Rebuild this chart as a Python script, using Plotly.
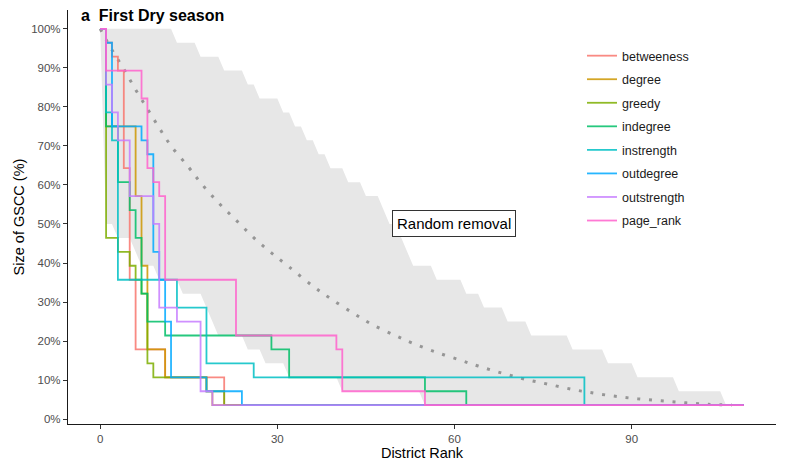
import plotly.graph_objects as go

# ---------------- data ----------------
series_names = ["betweeness", "degree", "greedy", "indegree",
                "instrength", "outdegree", "outstrength", "page_rank"]
series_colors = ["#F8766D", "#CD9600", "#7CAE00", "#00BE67",
                 "#00BFC4", "#00A9FF", "#C77CFF", "#FF61CC"]

# rank at which the GSCC size changes, and the size (%) from that rank on
betweeness_x = [0, 1, 2, 3, 4, 5, 6, 11, 21, 109]
betweeness_y = [100, 96.43, 92.86, 89.29, 64.29, 35.71, 17.86, 10.71, 3.57, 3.57]
degree_x = [0, 1, 6, 7, 8, 11, 18, 19, 109]
degree_y = [100, 75, 57.14, 39.29, 17.86, 10.71, 7.14, 3.57, 3.57]
greedy_x = [0, 1, 3, 5, 6, 7, 8, 9, 18, 21, 109]
greedy_y = [100, 46.43, 42.86, 39.29, 35.71, 32.14, 14.29, 10.71, 7.14, 3.57, 3.57]
indegree_x = [0, 1, 3, 5, 6, 7, 8, 11, 29, 32, 55, 62, 109]
indegree_y = [100, 75, 60.71, 53.57, 46.43, 32.14, 25, 21.43, 17.86, 10.71, 7.14, 3.57, 3.57]
instrength_x = [0, 1, 2, 3, 13, 18, 26, 82, 109]
instrength_y = [100, 78.57, 71.43, 35.71, 28.57, 14.29, 10.71, 3.57, 3.57]
outdegree_x = [0, 1, 2, 7, 8, 9, 10, 11, 12, 18, 24, 109]
outdegree_y = [100, 96.43, 75, 71.43, 67.86, 42.86, 35.71, 25, 10.71, 7.14, 3.57, 3.57]
outstrength_x = [0, 1, 2, 3, 5, 9, 10, 13, 17, 19, 109]
outstrength_y = [100, 85.71, 78.57, 71.43, 57.14, 50, 28.57, 25, 7.14, 3.57, 3.57]
page_rank_x = [0, 1, 7, 8, 9, 10, 11, 23, 40, 41, 55, 109]
page_rank_y = [100, 89.29, 82.14, 64.29, 60.71, 57.14, 35.71, 21.43, 17.86, 7.14, 3.57, 3.57]

# random removal: band (upper / lower) and mean
rand_upper_x = [0, 12, 13, 16, 17, 20, 21, 24, 25, 26, 27, 30, 31, 32, 33, 34, 35, 36,
                37, 38, 39, 41, 42, 44, 45, 47, 48, 49, 50, 51, 52, 53, 56, 57, 61, 62,
                64, 65, 68, 69, 72, 73, 79, 80, 85, 86, 90, 91, 97, 98, 105, 106, 107]
rand_upper_y = [100, 100, 96.43, 96.43, 92.86, 92.86, 89.29, 89.29, 85.71, 85.71, 82.14,
                82.14, 78.57, 78.57, 75, 75, 71.43, 71.43, 67.86, 67.86, 64.29, 64.29,
                60.71, 60.71, 57.14, 57.14, 53.57, 50, 50, 46.43, 42.86, 39.29, 39.29,
                35.71, 35.71, 32.14, 32.14, 28.57, 28.57, 25, 25, 21.43, 21.43, 17.86,
                17.86, 14.29, 14.29, 10.71, 10.71, 7.14, 7.14, 3.57, 3.57]
rand_lower_x = [0, 1, 2, 3, 5, 6, 7, 9, 10, 13, 14, 17, 18, 19, 20, 24, 25, 27, 28, 31,
                32, 40, 41, 54, 55, 107]
rand_lower_y = [100, 50, 50, 46.43, 46.43, 42.86, 39.29, 39.29, 35.71, 35.71, 32.14,
                32.14, 28.57, 25, 21.43, 21.43, 17.86, 17.86, 14.29, 14.29, 10.71, 10.71,
                7.14, 7.14, 3.57, 3.57]
rand_mean_x = [0, 2, 4, 6, 8, 10, 12, 15, 17, 20, 23, 26, 29, 32, 36, 39, 43, 46, 50,
               53, 57, 61, 64, 68, 72, 76, 80, 83, 87, 91, 95, 99, 103, 107]
rand_mean_y = [100, 94.6, 89.7, 84.4, 79.5, 74.6, 70.0, 64.5, 60.6, 55.5, 51.0, 46.5,
               42.6, 39.0, 34.1, 30.9, 27.0, 24.3, 21.4, 19.4, 17.1, 15.1, 13.6, 11.8,
               10.2, 8.9, 7.6, 6.8, 5.9, 5.2, 4.7, 4.2, 3.8, 3.6]

x_ticks = [0, 30, 60, 90]
y_ticks = [0, 10, 20, 30, 40, 50, 60, 70, 80, 90, 100]
y_tick_labels = [f"{v}%" for v in y_ticks]

series_x = [betweeness_x, degree_x, greedy_x, indegree_x,
            instrength_x, outdegree_x, outstrength_x, page_rank_x]
series_y = [betweeness_y, degree_y, greedy_y, indegree_y,
            instrength_y, outdegree_y, outstrength_y, page_rank_y]

FONT = "Liberation Sans, Arial, Helvetica, sans-serif"


def rgba(hex_color, a):
    h = hex_color.lstrip("#")
    r, g, b = int(h[0:2], 16), int(h[2:4], 16), int(h[4:6], 16)
    return f"rgba({r},{g},{b},{a})"


fig = go.Figure()

# band
fig.add_trace(go.Scatter(
    x=rand_upper_x + rand_lower_x[::-1],
    y=rand_upper_y + rand_lower_y[::-1],
    fill="toself", fillcolor="rgb(231,231,231)",
    line=dict(width=0), mode="lines", hoverinfo="skip", showlegend=False))

# mean random removal
fig.add_trace(go.Scatter(
    x=rand_mean_x, y=rand_mean_y, mode="lines",
    line=dict(color="rgb(150,150,150)", width=3, dash="3px,8.8px", shape="spline"),
    hoverinfo="skip", showlegend=False))

for name, col, xs, ys in zip(series_names, series_colors, series_x, series_y):
    fig.add_trace(go.Scatter(
        x=xs, y=ys, mode="lines", name=name, legendgroup=name,
        line=dict(color=rgba(col, 0.85), width=1.8, shape="hv")))

fig.add_annotation(x=60, y=50, xref="x", yref="y", text="Random removal",
                   showarrow=False, font=dict(family=FONT, size=15, color="black"),
                   bgcolor="white", bordercolor="#333333", borderwidth=1, borderpad=4)

fig.add_annotation(x=(79 - 68) / 708, y=(424 - 15.5) / 414, xref="paper", yref="paper",
                   text="<b>a  First Dry season</b>", showarrow=False,
                   font=dict(family=FONT, size=16, color="black"),
                   xanchor="left", yanchor="middle")

fig.update_layout(
    width=787, height=472,
    margin=dict(l=68, r=11, t=10, b=48),
    paper_bgcolor="white", plot_bgcolor="white",
    font=dict(family=FONT, color="#4D4D4D"),
    legend=dict(x=0.726, y=0.925, xanchor="left", yanchor="top",
                font=dict(family=FONT, size=12.5, color="#1a1a1a"),
                tracegroupgap=4.3, bgcolor="rgba(0,0,0,0)"),
)

fig.update_xaxes(range=[-5.45, 114.45], tickvals=x_ticks, ticks="outside", ticklen=4,
                 tickcolor="#333333", tickwidth=1, showline=True, linecolor="#1a1a1a",
                 linewidth=1.3, showgrid=False, zeroline=False,
                 tickfont=dict(family=FONT, size=11.5, color="#4D4D4D"),
                 title=dict(text="District Rank", standoff=3,
                            font=dict(family=FONT, size=14.5, color="black")))
fig.update_yaxes(range=[-1.25, 104.82], tickvals=y_ticks, ticktext=y_tick_labels,
                 ticks="outside",
                 ticklen=4, tickcolor="#333333", tickwidth=1, showline=True,
                 linecolor="#1a1a1a", linewidth=1.3, showgrid=False, zeroline=False,
                 tickfont=dict(family=FONT, size=11.5, color="#4D4D4D"),
                 title=dict(text="Size of GSCC (%)", standoff=3,
                            font=dict(family=FONT, size=14.5, color="black")))

fig.write_html("out.html")
